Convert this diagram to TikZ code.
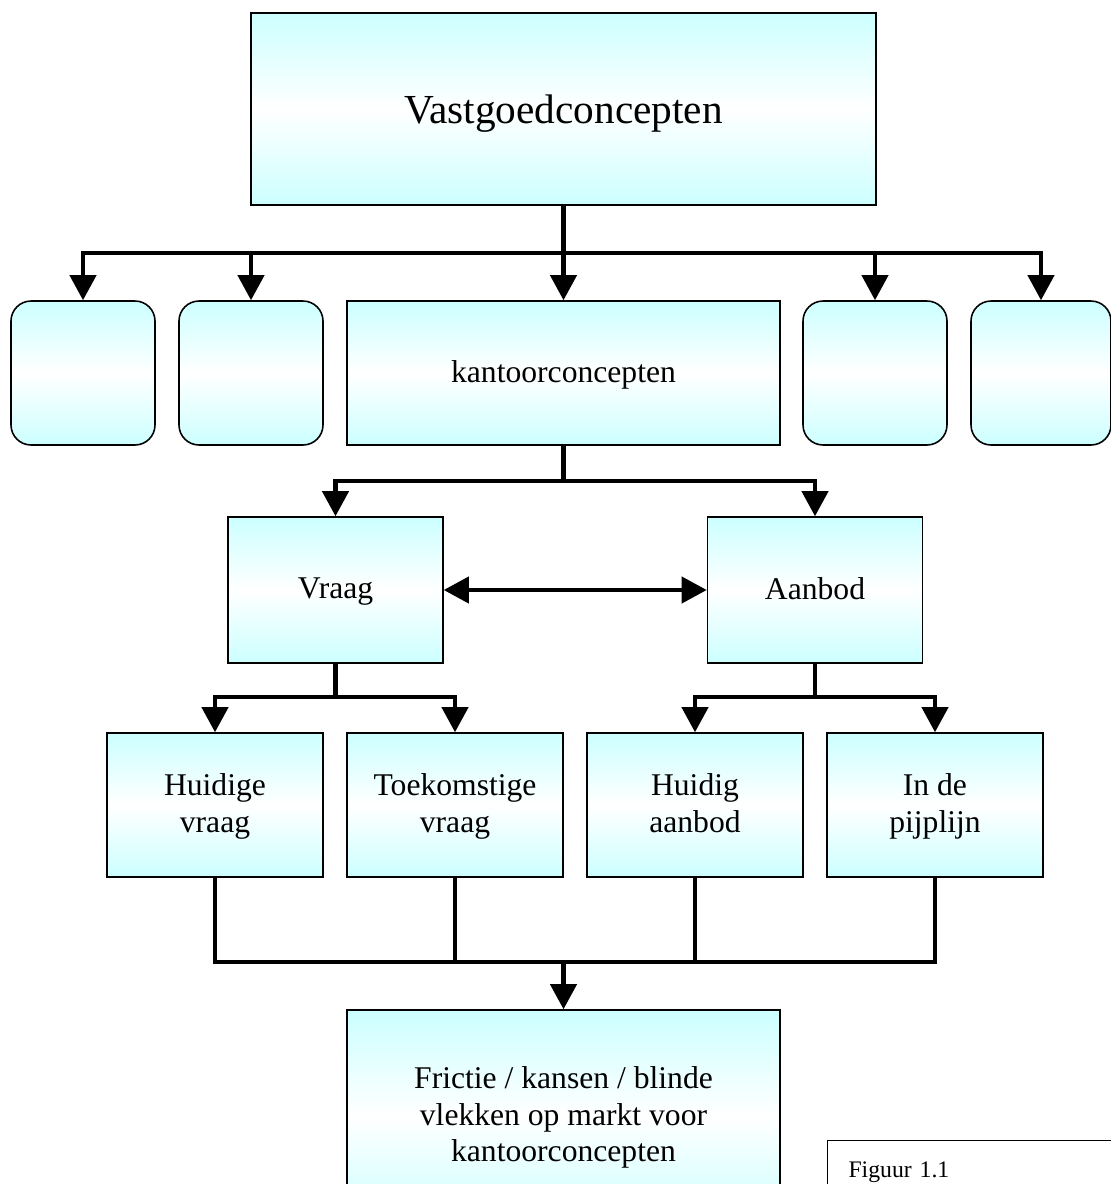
\documentclass[tikz,border=0pt]{standalone}
\usepackage{fontspec}
\setmainfont{Liberation Serif}
\usepackage{tikz}
\usetikzlibrary{arrows.meta}
\definecolor{boxcyan}{RGB}{204,255,255}

\begin{document}
\begin{tikzpicture}[x=0.02cm, y=-0.02cm]
% Define styles
\tikzstyle{box}=[rectangle, draw=black, line width=0.9pt, top color=boxcyan, bottom color=boxcyan, middle color=white, align=center, text depth=0.22em, font=\fontsize{18}{20.7}\selectfont]
\tikzstyle{roundBox}=[box, rounded corners=0.4cm, minimum width=2.88cm, minimum height=2.88cm]
\tikzstyle{smallBox}=[box, minimum width=4.32cm, minimum height=2.88cm]
\tikzstyle{line}=[line width=2.3pt]
\tikzstyle{arrow}=[line, -{Triangle[length=0.5cm, width=0.52cm]}]
\tikzstyle{dblArrow}=[line, {Triangle[length=0.5cm, width=0.52cm]}-{Triangle[length=0.5cm, width=0.52cm]}]

\useasboundingbox (0,0) rectangle (1111,1184);
\clip (0,0) rectangle (1111,1184);

% Draw top concept
\node[box, minimum width=12.5cm, minimum height=3.84cm, font=\fontsize{23.5}{27}\selectfont, text depth=0pt] (vastgoed) at (563.5,109) {Vastgoedconcepten};

% Draw second row
\node[roundBox] (leeg1) at (83,373) {};
\node[roundBox] (leeg2) at (251,373) {};
\node[box, minimum width=8.66cm, minimum height=2.88cm] (kantoor) at (563.5,373) {kantoorconcepten};
\node[roundBox] (leeg3) at (875,373) {};
\node[roundBox, minimum width=2.8cm] (leeg4) at (1041,373) {};

% Draw vraag and aanbod
\node[box, minimum width=4.3cm, minimum height=2.92cm] (vraag) at (335.5,590) {Vraag};
\node[box, minimum width=4.3cm, minimum height=2.92cm] (aanbod) at (815,590) {Aanbod};

% Draw fourth row
\node[smallBox] (huidigeVraag) at (215,805) {Huidige\\vraag};
\node[smallBox] (toekomstVraag) at (455,805) {Toekomstige\\vraag};
\node[smallBox] (huidigAanbod) at (695,805) {Huidig\\aanbod};
\node[smallBox] (pijplijn) at (935,805) {In de\\pijplijn};

% Draw result
\node[box, minimum width=8.66cm, minimum height=4.24cm] (frictie) at (563.5,1116) {Frictie / kansen / blinde\\vlekken op markt voor\\kantoorconcepten};

% Caption
\node[rectangle, draw=black, line width=0.6pt, anchor=north west, minimum height=1.28cm, text width=5.2cm, inner xsep=0.42cm, align=left, font=\fontsize{13.5}{16}\selectfont] (figuur) at (827,1140) {Figuur 1.1};

% Junctions
\coordinate (splitTop) at (563.5,253);
\coordinate (splitMid) at (563.5,481);
\coordinate (splitVraag) at (335.5,697);
\coordinate (splitAanbod) at (815,697);
\coordinate (merge) at (563.5,962);

% Arrows
\draw[line] (vastgoed) -- (splitTop);
\draw[arrow] (splitTop) -| (leeg1.north);
\draw[arrow] (splitTop) -| (leeg2.north);
\draw[arrow] (splitTop) -- (kantoor);
\draw[arrow] (splitTop) -| (leeg3.north);
\draw[arrow] (splitTop) -| (leeg4.north);

\draw[line] (kantoor) -- (splitMid);
\draw[arrow] (splitMid) -| (vraag.north);
\draw[arrow] (splitMid) -| (aanbod.north);

\draw[dblArrow] (vraag) -- (aanbod);

\draw[line] (vraag) -- (splitVraag);
\draw[arrow] (splitVraag) -| (huidigeVraag.north);
\draw[arrow] (splitVraag) -| (toekomstVraag.north);
\draw[line] (aanbod) -- (splitAanbod);
\draw[arrow] (splitAanbod) -| (huidigAanbod.north);
\draw[arrow] (splitAanbod) -| (pijplijn.north);

\draw[line] (huidigeVraag.south) |- (merge);
\draw[line] (toekomstVraag.south) |- (merge);
\draw[line] (huidigAanbod.south) |- (merge);
\draw[line] (pijplijn.south) |- (merge);
\draw[arrow] (merge) -- (frictie);
\end{tikzpicture}
\end{document}
